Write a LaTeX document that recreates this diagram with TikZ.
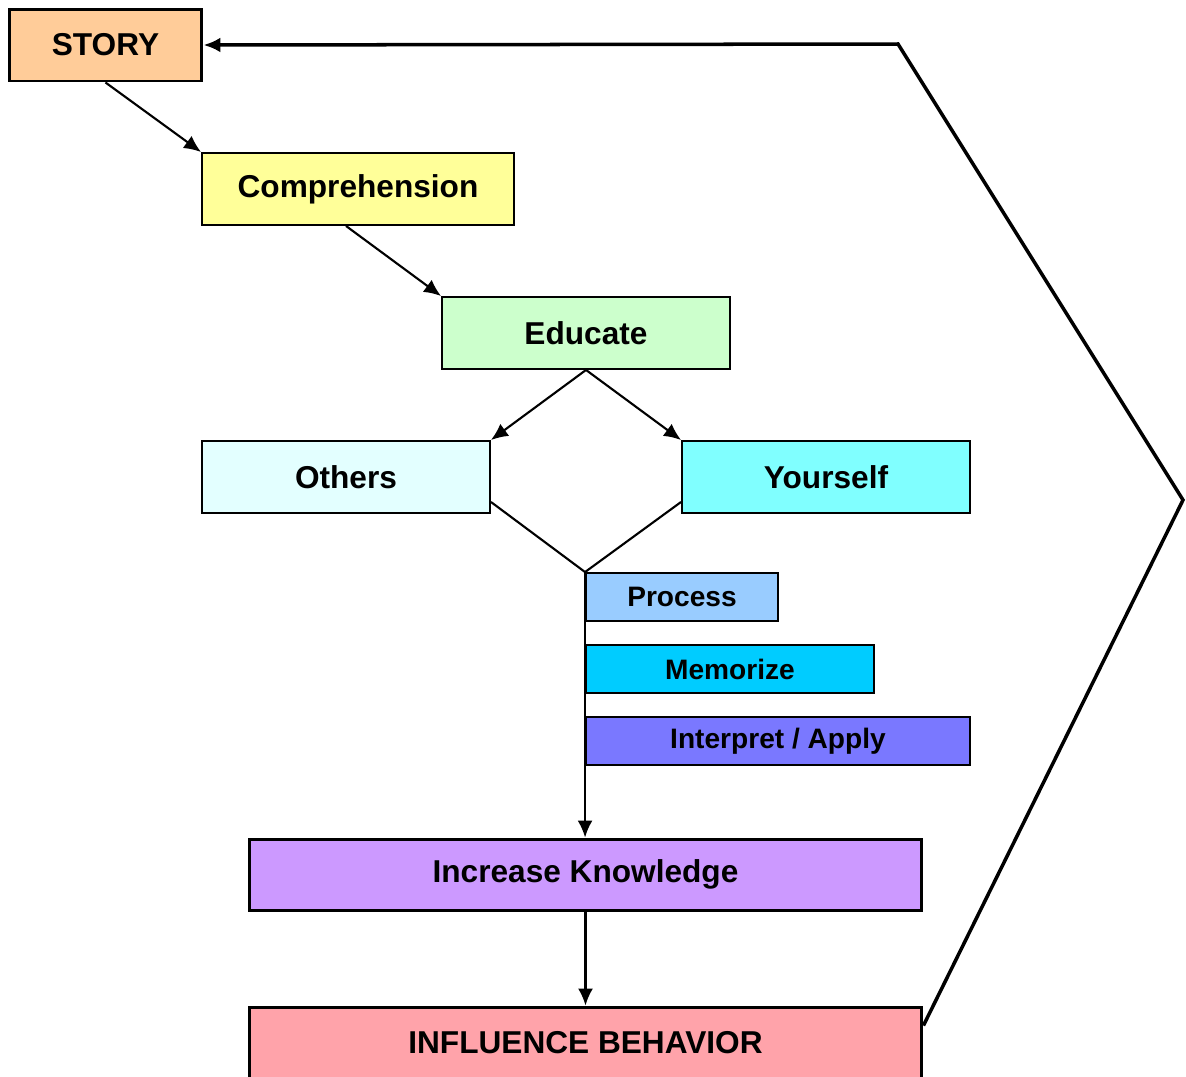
\documentclass[tikz,border=0pt]{standalone}
\usepackage{fontspec}
\setmainfont{Liberation Sans}
\usetikzlibrary{arrows.meta}

\definecolor{storyfill}{HTML}{FFCC99}
\definecolor{compfill}{HTML}{FFFF99}
\definecolor{edufill}{HTML}{CCFFCC}
\definecolor{othersfill}{HTML}{E3FFFF}
\definecolor{selffill}{HTML}{80FFFF}
\definecolor{procfill}{HTML}{99CCFF}
\definecolor{memofill}{HTML}{00CCFF}
\definecolor{interpfill}{HTML}{7A78FF}
\definecolor{knowfill}{HTML}{CC99FF}
\definecolor{inflfill}{HTML}{FFA3AA}

\tikzset{
  box/.style={draw, line width=1.1pt, inner sep=0pt, font=\fontsize{18}{20}\selectfont\bfseries},
  bigbox/.style={box, line width=1.7pt},
  smallbox/.style={box, minimum height=0.96cm, font=\fontsize{16}{18}\selectfont\bfseries},
  flow/.style={line width=1.2pt, -{Latex[length=0.34cm,width=0.3cm]}},
}

\begin{document}
\begin{tikzpicture}[x=0.02cm, y=-0.02cm]
  \useasboundingbox (0,0) rectangle (1186,1076);
  \clip (0,0) rectangle (1186,1076);
  % main column
  \node[bigbox, fill=storyfill, minimum width=3.86cm, minimum height=1.44cm] (story) at (105.5,45) {STORY};
  \node[box, fill=compfill, minimum width=6.24cm, minimum height=1.44cm] (comp) at (358,189) {Comprehension};
  \node[box, fill=edufill, minimum width=5.76cm, minimum height=1.44cm] (edu) at (586,333) {Educate};
  \node[box, fill=othersfill, minimum width=5.76cm, minimum height=1.44cm] (others) at (346,477) {Others};
  \node[box, fill=selffill, minimum width=5.76cm, minimum height=1.44cm] (self) at (826,477) {Yourself};
  \node[smallbox, fill=procfill, minimum width=3.84cm] (proc) at (682,597) {Process};
  \node[smallbox, fill=memofill, minimum width=5.76cm] (memo) at (730,669) {Memorize};
  \node[smallbox, fill=interpfill, minimum width=7.68cm] (interp) at (778,741) {Interpret / Apply};
  \node[bigbox, fill=knowfill, minimum width=13.46cm, minimum height=1.42cm] (know) at (585.5,874.5) {Increase Knowledge};
  \node[bigbox, fill=inflfill, minimum width=13.46cm, minimum height=1.44cm] (infl) at (585.5,1043) {INFLUENCE BEHAVIOR};

  % connectors
  \draw[flow] (story.south) -- (comp.north west);
  \draw[flow] ([xshift=-0.24cm]comp.south) -- (edu.north west);
  \draw[flow] (edu.south) -- (others.north east);
  \draw[flow] (edu.south) -- (self.north west);
  \draw[line width=1.2pt] ([yshift=0.24cm]others.south east) -- (proc.north west)
    -- ([yshift=0.24cm]self.south west);
  \draw[flow] (proc.north west) -- (proc.north west |- know.north);
  \draw[flow] (know.south) -- (infl.north);

  % feedback loop
  \coordinate (turnR) at (1183,500);
  \coordinate (turnT) at (898,44);
  \draw[line width=2pt, -{Latex[length=0.34cm,width=0.3cm]}]
    ([yshift=-0.4cm]infl.north east) -- (turnR) -- (turnT) -- (story.east);
\end{tikzpicture}
\end{document}
